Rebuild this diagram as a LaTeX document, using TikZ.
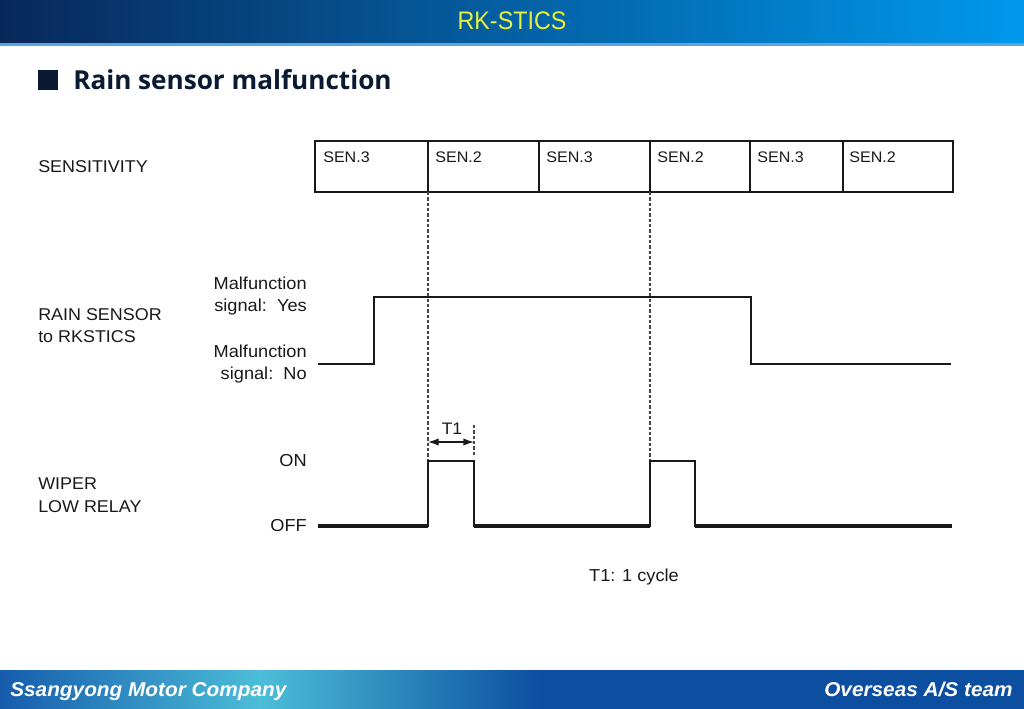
\documentclass[tikz,border=0pt]{standalone}
\usepackage{fontspec}
\setmainfont{Liberation Sans}[FakeStretch=1.05]
\newfontfamily\hdrfont{Liberation Sans}[FakeStretch=0.92]
\newfontfamily\titlefont{Open Sans}
\newfontfamily\footfont{Liberation Sans}[FakeStretch=1.04]
\usetikzlibrary{arrows.meta}
\definecolor{navy}{RGB}{10,26,50}
\definecolor{hdrL}{RGB}{8,40,90}
\definecolor{hdrR}{RGB}{0,152,236}
\definecolor{hdrLine}{RGB}{90,165,225}
\definecolor{ttlyellow}{RGB}{232,242,60}
\definecolor{ftA}{RGB}{22,92,172}
\definecolor{ftB}{RGB}{76,190,216}
\definecolor{ftC}{RGB}{12,78,160}
\definecolor{ink}{RGB}{25,25,25}
\tikzset{
  lbl/.style={inner sep=0pt, font=\fontsize{12.8}{17}\selectfont, text=ink, align=left},
  rlbl/.style={inner sep=0pt, font=\fontsize{13}{16.5}\selectfont, text=ink, align=right, anchor=east},
  senlbl/.style={inner sep=0pt, anchor=west, font=\fontsize{11.5}{13}\selectfont, text=ink},
  boxline/.style={line width=1.3pt, draw=ink},
  sig/.style={line width=1.1pt, draw=ink},
  lowsig/.style={line width=2.3pt, draw=ink},
  highsig/.style={line width=1.5pt, draw=ink},
  dashline/.style={line width=0.8pt, draw=ink!80, dash pattern=on 2.5pt off 1.5pt},
  foot/.style={inner sep=0pt, text=white, font=\footfont\bfseries\itshape\fontsize{15}{17}\selectfont},
}
\begin{document}
\begin{tikzpicture}[x=0.75pt,y=-0.75pt]
\useasboundingbox (0,0) rectangle (1024,708);
\fill[white] (0,0) rectangle (1024,708);
% header
\shade[left color=hdrL, right color=hdrR] (0,0) rectangle (1024,43);
\fill[hdrLine] (0,43) rectangle (1024,46);
\node[inner sep=0pt, text=ttlyellow, font=\hdrfont\fontsize{19}{22}\selectfont] (hdr) at (512,21) {RK-STICS};
% title
\fill[navy] (38,70) rectangle (58,90);
\node[inner sep=0pt, anchor=west, text=navy, font=\titlefont\bfseries\fontsize{19.6}{22}\selectfont] (title) at (73,80) {Rain sensor malfunction};
% footer
\shade[left color=ftA, right color=ftB] (0,670) rectangle (261,712);
\shade[left color=ftB, right color=ftC] (260,670) rectangle (541,712);
\fill[ftC] (540,670) rectangle (1030,712);
\node[foot, anchor=base west] (ftl) at (10,696) {Ssangyong Motor Company};
\node[foot, anchor=base east] (ftr) at (1013,696) {Overseas A/S team};
% row labels
\node[lbl, anchor=west] (sens) at (38,167) {SENSITIVITY};
\node[lbl, anchor=west] (rain) at (38,325.5) {RAIN SENSOR\\to RKSTICS};
\node[lbl, anchor=west] (wiper) at (38,495) {WIPER\\LOW RELAY};
\node[rlbl] (yes) at (307,296) {Malfunction\\signal:\ \ Yes};
\node[rlbl] (no) at (307,364.5) {Malfunction\\signal:\ \ No};
\node[rlbl] (on) at (307,461) {ON};
\node[rlbl] (off) at (307,526) {OFF};
% sensitivity boxes
\draw[boxline] (315,141) rectangle (953,192);
\foreach \x in {428,539,650,750,843} \draw[boxline] (\x,141) -- (\x,192);
\node[senlbl] (s1) at (323,157) {SEN.3};
\node[senlbl] (s2) at (435,157) {SEN.2};
\node[senlbl] (s3) at (546,157) {SEN.3};
\node[senlbl] (s4) at (657,157) {SEN.2};
\node[senlbl] (s5) at (757,157) {SEN.3};
\node[senlbl] (s6) at (849,157) {SEN.2};
% dashed guides
\coordinate (d1t) at (428,192); \coordinate (d1b) at (428,472);
\coordinate (d2t) at (650,192); \coordinate (d2b) at (650,462);
\coordinate (d3t) at (474,425); \coordinate (d3b) at (474,456);
\draw[dashline] (d1t) -- (d1b);
\draw[dashline] (d2t) -- (d2b);
\draw[dashline] (d3t) -- (d3b);
% rain sensor signal
\draw[sig] (318,364) -- (374,364) -- (374,297) -- (751,297) -- (751,364) -- (951,364);
% wiper signal
\draw[lowsig] (318,526) -- (428,526);
\draw[highsig] (428,527) -- (428,461) -- (474,461) -- (474,527);
\draw[lowsig] (474,526) -- (650,526);
\draw[highsig] (650,527) -- (650,461) -- (695,461) -- (695,527);
\draw[lowsig] (695,526) -- (952,526);
% T1
\coordinate (t1a) at (428,442); \coordinate (t1b) at (474,442);
\draw[line width=1pt, draw=ink, {Latex[length=8pt,width=5.5pt]}-{Latex[length=8pt,width=5.5pt]}] (t1a) -- (t1b);
\node[inner sep=0pt, font=\fontsize{12.5}{14}\selectfont, text=ink] (t1) at (452,429) {T1};
\node[inner sep=0pt, font=\fontsize{13}{14}\selectfont, text=ink] (t1note) at (634,577) {T1: 1 cycle};
\end{tikzpicture}
\end{document}
